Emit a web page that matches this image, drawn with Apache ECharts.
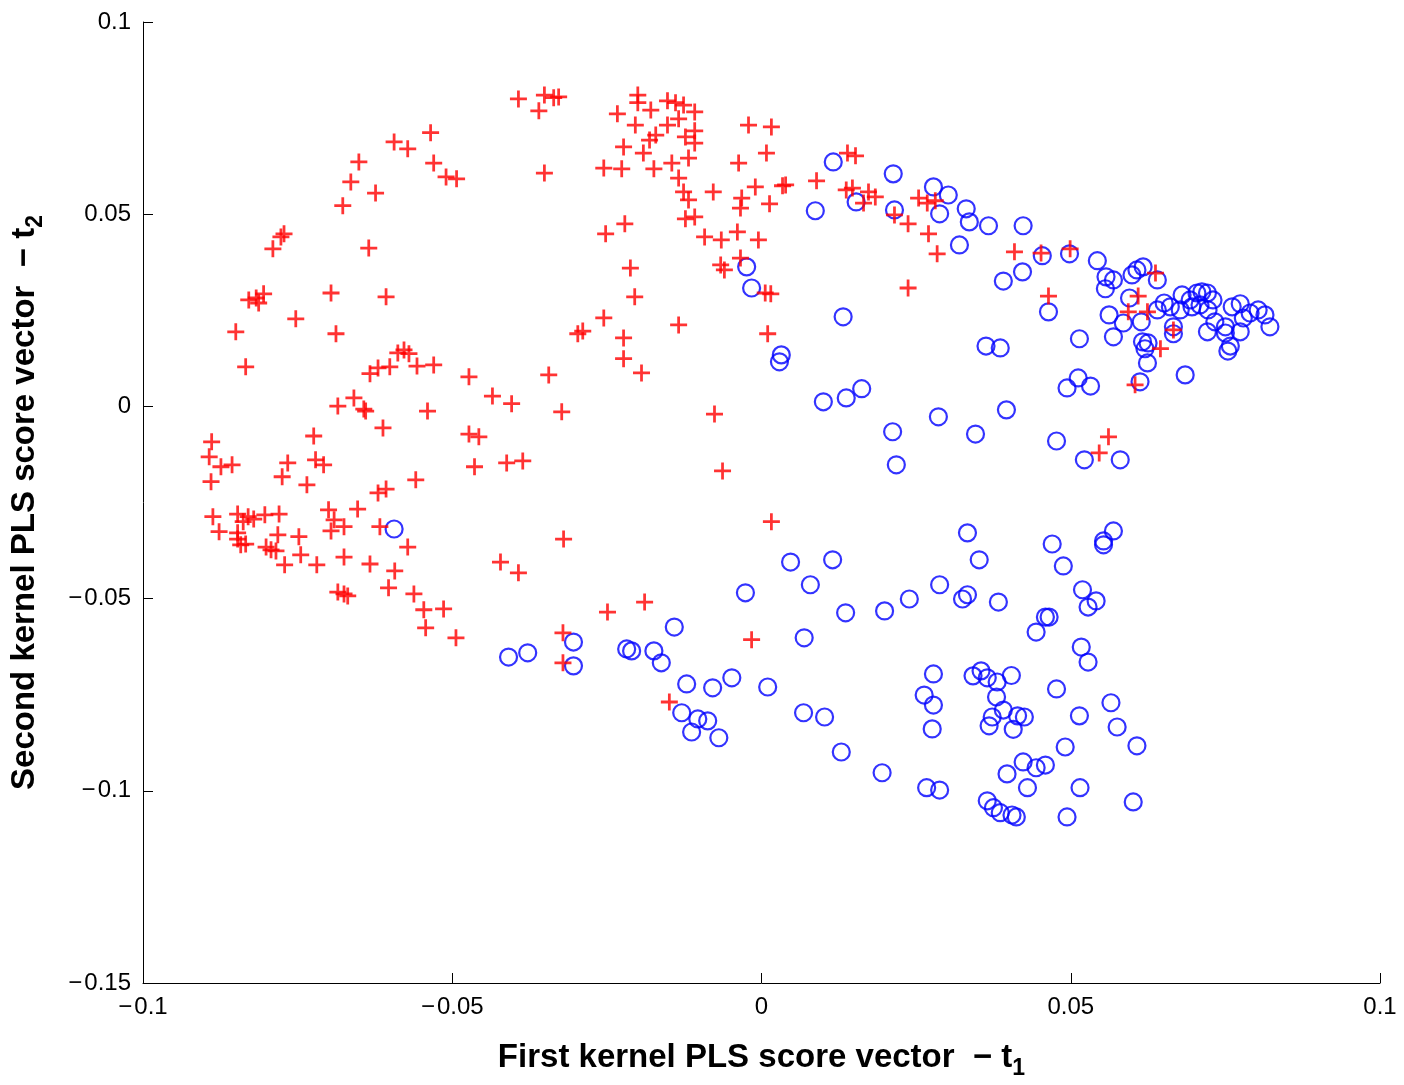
<!DOCTYPE html>
<html>
<head>
<meta charset="utf-8">
<title>Kernel PLS scores</title>
<script src="https://cdn.jsdelivr.net/npm/echarts@6/dist/echarts.min.js"></script>
<style>
  html, body { margin: 0; padding: 0; background: #fff; }
  #main { width: 1404px; height: 1085px; }
</style>
</head>
<body>
<div id="main"></div>
<script>
// score vectors, [t1, t2]
const redPoints = [
  [-0.0393, 0.0800], [-0.0351, 0.0810], [-0.0336, 0.0803], [-0.0328, 0.0805], [-0.0360, 0.0769],
  [-0.0351, 0.0607], [-0.0200, 0.0810], [-0.0200, 0.0790], [-0.0179, 0.0771], [-0.0152, 0.0795],
  [-0.0139, 0.0790], [-0.0126, 0.0784], [-0.0108, 0.0766], [-0.0233, 0.0761], [-0.0204, 0.0732],
  [-0.0152, 0.0732], [-0.0134, 0.0748], [-0.0108, 0.0717], [-0.0123, 0.0701], [-0.0108, 0.0685],
  [-0.0171, 0.0706], [-0.0181, 0.0693], [-0.0223, 0.0675], [-0.0191, 0.0659], [-0.0118, 0.0646],
  [-0.0145, 0.0633], [-0.0255, 0.0620], [-0.0226, 0.0618], [-0.0174, 0.0618], [-0.0134, 0.0594],
  [-0.0126, 0.0558], [-0.0118, 0.0537], [-0.0078, 0.0558], [-0.0037, 0.0633], [-0.0123, 0.0488],
  [-0.0108, 0.0493], [-0.0092, 0.0441], [-0.0065, 0.0433], [-0.0039, 0.0454], [-0.0066, 0.0368],
  [-0.0060, 0.0355], [-0.0221, 0.0475], [-0.0252, 0.0449], [-0.0212, 0.0360], [-0.0205, 0.0285],
  [-0.0255, 0.0230], [-0.0134, 0.0212], [-0.0289, 0.0196], [-0.0297, 0.0189], [-0.0021, 0.0732],
  [0.0016, 0.0727], [0.0008, 0.0659], [-0.0010, 0.0571], [-0.0032, 0.0542], [-0.0034, 0.0516],
  [0.0013, 0.0527], [0.0034, 0.0574], [0.0039, 0.0576], [0.0089, 0.0587], [0.0139, 0.0659],
  [0.0152, 0.0652], [0.0137, 0.0563], [0.0147, 0.0568], [0.0173, 0.0558], [0.0184, 0.0545],
  [0.0165, 0.0529], [0.0215, 0.0498], [0.0237, 0.0475], [0.0254, 0.0542], [0.0268, 0.0529],
  [0.0281, 0.0535], [0.0270, 0.0449], [0.0284, 0.0397], [-0.0005, 0.0433], [-0.0034, 0.0386],
  [0.0006, 0.0295], [0.0015, 0.0293], [0.0237, 0.0308], [0.0010, 0.0189], [0.0409, 0.0402],
  [0.0452, 0.0399], [0.0499, 0.0410], [0.0464, 0.0287], [0.0637, 0.0347], [0.0609, 0.0287],
  [0.0593, 0.0246], [0.0624, 0.0246], [0.0666, 0.0199], [0.0645, 0.0150], [0.0604, 0.0056],
  [0.0561, -0.0079], [0.0546, -0.0121], [-0.0189, -0.0509], [-0.0249, -0.0535], [-0.0321, -0.0589],
  [-0.0321, -0.0667], [-0.0149, -0.0769], [-0.0016, -0.0607], [0.0016, -0.0300], [-0.0076, -0.0020],
  [-0.0063, -0.0168], [-0.0223, 0.0178], [-0.0223, 0.0124], [-0.0194, 0.0087], [-0.0344, 0.0082],
  [-0.0473, 0.0077], [-0.0435, 0.0027], [-0.0404, 0.0007], [-0.0323, -0.0014], [-0.0473, -0.0072],
  [-0.0457, -0.0079], [-0.0464, -0.0157], [-0.0412, -0.0147], [-0.0386, -0.0142], [-0.0320, -0.0345],
  [-0.0422, -0.0405], [-0.0393, -0.0433], [-0.0685, -0.0483], [-0.0675, -0.0488], [-0.0669, -0.0493],
  [-0.0603, -0.0472], [-0.0562, -0.0488], [-0.0546, -0.0529], [-0.0514, -0.0527], [-0.0543, -0.0576],
  [-0.0494, -0.0602], [-0.0850, 0.0194], [-0.0688, 0.0189], [-0.0834, 0.0103], [-0.0588, 0.0139],
  [-0.0578, 0.0147], [-0.0570, 0.0137], [-0.0557, 0.0105], [-0.0530, 0.0108], [-0.0601, 0.0103],
  [-0.0620, 0.0100], [-0.0633, 0.0085], [-0.0685, 0.0001], [-0.0659, 0.0022], [-0.0643, -0.0007],
  [-0.0640, -0.0012], [-0.0540, -0.0012], [-0.0612, -0.0056], [-0.0724, -0.0077], [-0.0889, -0.0092],
  [-0.0893, -0.0131], [-0.0874, -0.0157], [-0.0856, -0.0152], [-0.0890, -0.0196], [-0.0766, -0.0147],
  [-0.0721, -0.0139], [-0.0708, -0.0152], [-0.0775, -0.0183], [-0.0735, -0.0204], [-0.0559, -0.0191],
  [-0.0620, -0.0225], [-0.0607, -0.0215], [-0.0653, -0.0267], [-0.0700, -0.0269], [-0.0691, -0.0295],
  [-0.0696, -0.0324], [-0.0675, -0.0313], [-0.0617, -0.0313], [-0.0887, -0.0287], [-0.0877, -0.0326],
  [-0.0847, -0.0280], [-0.0830, -0.0287], [-0.0821, -0.0293], [-0.0803, -0.0282], [-0.0780, -0.0280],
  [-0.0838, -0.0300], [-0.0847, -0.0329], [-0.0847, -0.0345], [-0.0842, -0.0360], [-0.0834, -0.0358],
  [-0.0801, -0.0366], [-0.0793, -0.0373], [-0.0785, -0.0376], [-0.0782, -0.0334], [-0.0748, -0.0339],
  [-0.0745, -0.0386], [-0.0771, -0.0412], [-0.0719, -0.0412], [-0.0675, -0.0392], [-0.0633, -0.0410],
  [-0.0593, -0.0428], [-0.0572, -0.0366], [-0.0535, 0.0712], [-0.0594, 0.0688], [-0.0572, 0.0670],
  [-0.0530, 0.0633], [-0.0510, 0.0597], [-0.0493, 0.0592], [-0.0651, 0.0636], [-0.0664, 0.0584],
  [-0.0624, 0.0555], [-0.0677, 0.0522], [-0.0772, 0.0449], [-0.0777, 0.0441], [-0.0790, 0.0410],
  [-0.0635, 0.0412], [-0.0805, 0.0293], [-0.0817, 0.0282], [-0.0829, 0.0277], [-0.0813, 0.0269],
  [-0.0696, 0.0295], [-0.0607, 0.0285], [-0.0753, 0.0228]
];

const bluePoints = [
  [0.0116, 0.0636], [0.0087, 0.0509], [0.0153, 0.0532], [0.0213, 0.0605], [0.0215, 0.0511],
  [0.0278, 0.0571], [0.0302, 0.0550], [0.0288, 0.0501], [0.0331, 0.0514], [0.0336, 0.0480],
  [0.0367, 0.0470], [0.0320, 0.0420], [0.0391, 0.0326], [-0.0024, 0.0363], [-0.0016, 0.0308],
  [0.0132, 0.0233], [0.0423, 0.0470], [0.0422, 0.0350], [0.0454, 0.0392], [0.0498, 0.0397],
  [0.0543, 0.0379], [0.0557, 0.0337], [0.0569, 0.0329], [0.0556, 0.0306], [0.0599, 0.0342],
  [0.0607, 0.0355], [0.0617, 0.0363], [0.0640, 0.0329], [0.0595, 0.0282], [0.0464, 0.0246],
  [0.0562, 0.0238], [0.0585, 0.0217], [0.0614, 0.0220], [0.0640, 0.0251], [0.0651, 0.0269],
  [0.0661, 0.0259], [0.0680, 0.0290], [0.0693, 0.0277], [0.0704, 0.0295], [0.0712, 0.0298],
  [0.0721, 0.0295], [0.0730, 0.0277], [0.0696, 0.0259], [0.0709, 0.0264], [0.0722, 0.0251],
  [0.0677, 0.0251], [0.0761, 0.0259], [0.0774, 0.0267], [0.0790, 0.0243], [0.0803, 0.0251],
  [0.0814, 0.0238], [0.0779, 0.0230], [0.0822, 0.0207], [0.0733, 0.0220], [0.0750, 0.0207],
  [0.0666, 0.0207], [0.0514, 0.0176], [0.0569, 0.0181], [0.0616, 0.0168], [0.0625, 0.0165],
  [0.0620, 0.0150], [0.0624, 0.0113], [0.0612, 0.0064], [0.0666, 0.0189], [0.0721, 0.0194],
  [0.0750, 0.0191], [0.0774, 0.0194], [0.0758, 0.0157], [0.0754, 0.0144], [0.0685, 0.0082],
  [0.0512, 0.0074], [0.0494, 0.0048], [0.0532, 0.0053], [0.0477, -0.0090], [0.0522, -0.0139],
  [0.0580, -0.0139], [0.0569, -0.0324], [0.0553, -0.0350], [0.0553, -0.0360], [0.0470, -0.0358],
  [0.0488, -0.0415], [0.0032, 0.0134], [0.0029, 0.0116], [0.0100, 0.0012], [0.0137, 0.0022],
  [0.0162, 0.0046], [0.0212, -0.0066], [0.0218, -0.0152], [0.0286, -0.0027], [0.0346, -0.0072],
  [0.0363, 0.0157], [0.0386, 0.0152], [0.0396, -0.0009], [0.0333, -0.0329], [0.0352, -0.0399],
  [0.0047, -0.0405], [0.0115, -0.0399], [-0.0026, -0.0485], [0.0079, -0.0464], [0.0136, -0.0537],
  [0.0199, -0.0532], [0.0239, -0.0501], [0.0288, -0.0464], [0.0325, -0.0501], [0.0333, -0.0490],
  [0.0383, -0.0509], [0.0069, -0.0602], [0.0010, -0.0730], [0.0068, -0.0797], [0.0102, -0.0808],
  [0.0129, -0.0899], [0.0195, -0.0953], [0.0267, -0.0992], [0.0288, -0.0998], [0.0278, -0.0696],
  [0.0263, -0.0751], [0.0278, -0.0777], [0.0276, -0.0839], [0.0342, -0.0701], [0.0355, -0.0688],
  [0.0365, -0.0706], [0.0381, -0.0717], [0.0404, -0.0700], [0.0380, -0.0756], [0.0391, -0.0790],
  [0.0373, -0.0808], [0.0368, -0.0831], [0.0407, -0.0840], [0.0397, -0.0956], [0.0365, -0.1026],
  [0.0375, -0.1044], [0.0386, -0.1057], [0.0405, -0.1063], [0.0412, -0.1068], [0.0519, -0.0477],
  [0.0541, -0.0506], [0.0528, -0.0522], [0.0459, -0.0548], [0.0465, -0.0548], [0.0444, -0.0587],
  [0.0517, -0.0626], [0.0528, -0.0665], [0.0477, -0.0735], [0.0565, -0.0771], [0.0514, -0.0805],
  [0.0414, -0.0805], [0.0425, -0.0808], [0.0575, -0.0834], [0.0607, -0.0883], [0.0491, -0.0886],
  [0.0423, -0.0925], [0.0444, -0.0940], [0.0459, -0.0933], [0.0430, -0.0992], [0.0515, -0.0992],
  [0.0601, -0.1029], [0.0494, -0.1068], [-0.0409, -0.0652], [-0.0378, -0.0641], [-0.0304, -0.0613],
  [-0.0304, -0.0675], [-0.0218, -0.0631], [-0.0210, -0.0636], [-0.0174, -0.0636], [-0.0162, -0.0667],
  [-0.0141, -0.0574], [-0.0121, -0.0722], [-0.0079, -0.0732], [-0.0048, -0.0706], [-0.0129, -0.0797],
  [-0.0103, -0.0813], [-0.0087, -0.0818], [-0.0113, -0.0847], [-0.0069, -0.0862], [-0.0594, -0.0319]
];

const xMin = -0.1, xMax = 0.1;
const yMin = -0.15, yMax = 0.1;
const tickStep = 0.05;

const plusPath = 'path://M-1.3,-8H1.3V8H-1.3Z M-8,-1.3H8V1.3H-8Z';
// MATLAB-style minus sign with a hair space after it
const fmt = v => String(Math.round(v * 1000) / 1000).replace('-', '\u2212\u200A');

const nameStyle = {
  color: '#000', fontSize: 33, fontWeight: 'bold',
  rich: { sub: { fontSize: 23, fontWeight: 'bold', color: '#000', padding: [22, 0, 0, 0] } }
};

const myChart = echarts.init(document.getElementById('main'));
myChart.setOption({
  animation: false,
  backgroundColor: '#ffffff',
  textStyle: { fontFamily: 'Liberation Sans, Arial, sans-serif' },
  grid: { left: 142, top: 22, right: 24, bottom: 102 },
  xAxis: {
    type: 'value',
    min: xMin,
    max: xMax,
    interval: tickStep,
    name: 'First kernel PLS score vector  \u2212 t{sub|1}',
    nameLocation: 'middle',
    nameGap: 52,
    nameTextStyle: nameStyle,
    axisLine: { onZero: false, lineStyle: { color: '#000', width: 1 } },
    axisTick: { inside: true, length: 10, lineStyle: { color: '#000' } },
    axisLabel: { color: '#000', fontSize: 24, margin: 12, formatter: fmt },
    splitLine: { show: false }
  },
  yAxis: {
    type: 'value',
    min: yMin,
    max: yMax,
    interval: tickStep,
    name: 'Second kernel PLS score vector  \u2212 t{sub|2}',
    nameLocation: 'middle',
    nameGap: 96,
    nameTextStyle: nameStyle,
    axisLine: { onZero: false, lineStyle: { color: '#000', width: 1 } },
    axisTick: { inside: true, length: 10, lineStyle: { color: '#000' } },
    axisLabel: { color: '#000', fontSize: 24, margin: 12, formatter: fmt },
    splitLine: { show: false }
  },
  series: [
    {
      name: 'class 2',
      type: 'scatter',
      data: bluePoints,
      symbol: 'circle',
      symbolSize: 17,
      itemStyle: { color: 'rgba(0,0,0,0)', borderColor: '#0000ff', borderWidth: 2.2 }
    },
    {
      name: 'class 1',
      type: 'scatter',
      data: redPoints,
      symbol: plusPath,
      symbolSize: 17,
      itemStyle: { color: '#ff0000' }
    }
  ]
});
window.addEventListener('resize', () => myChart.resize());
</script>
</body>
</html>
